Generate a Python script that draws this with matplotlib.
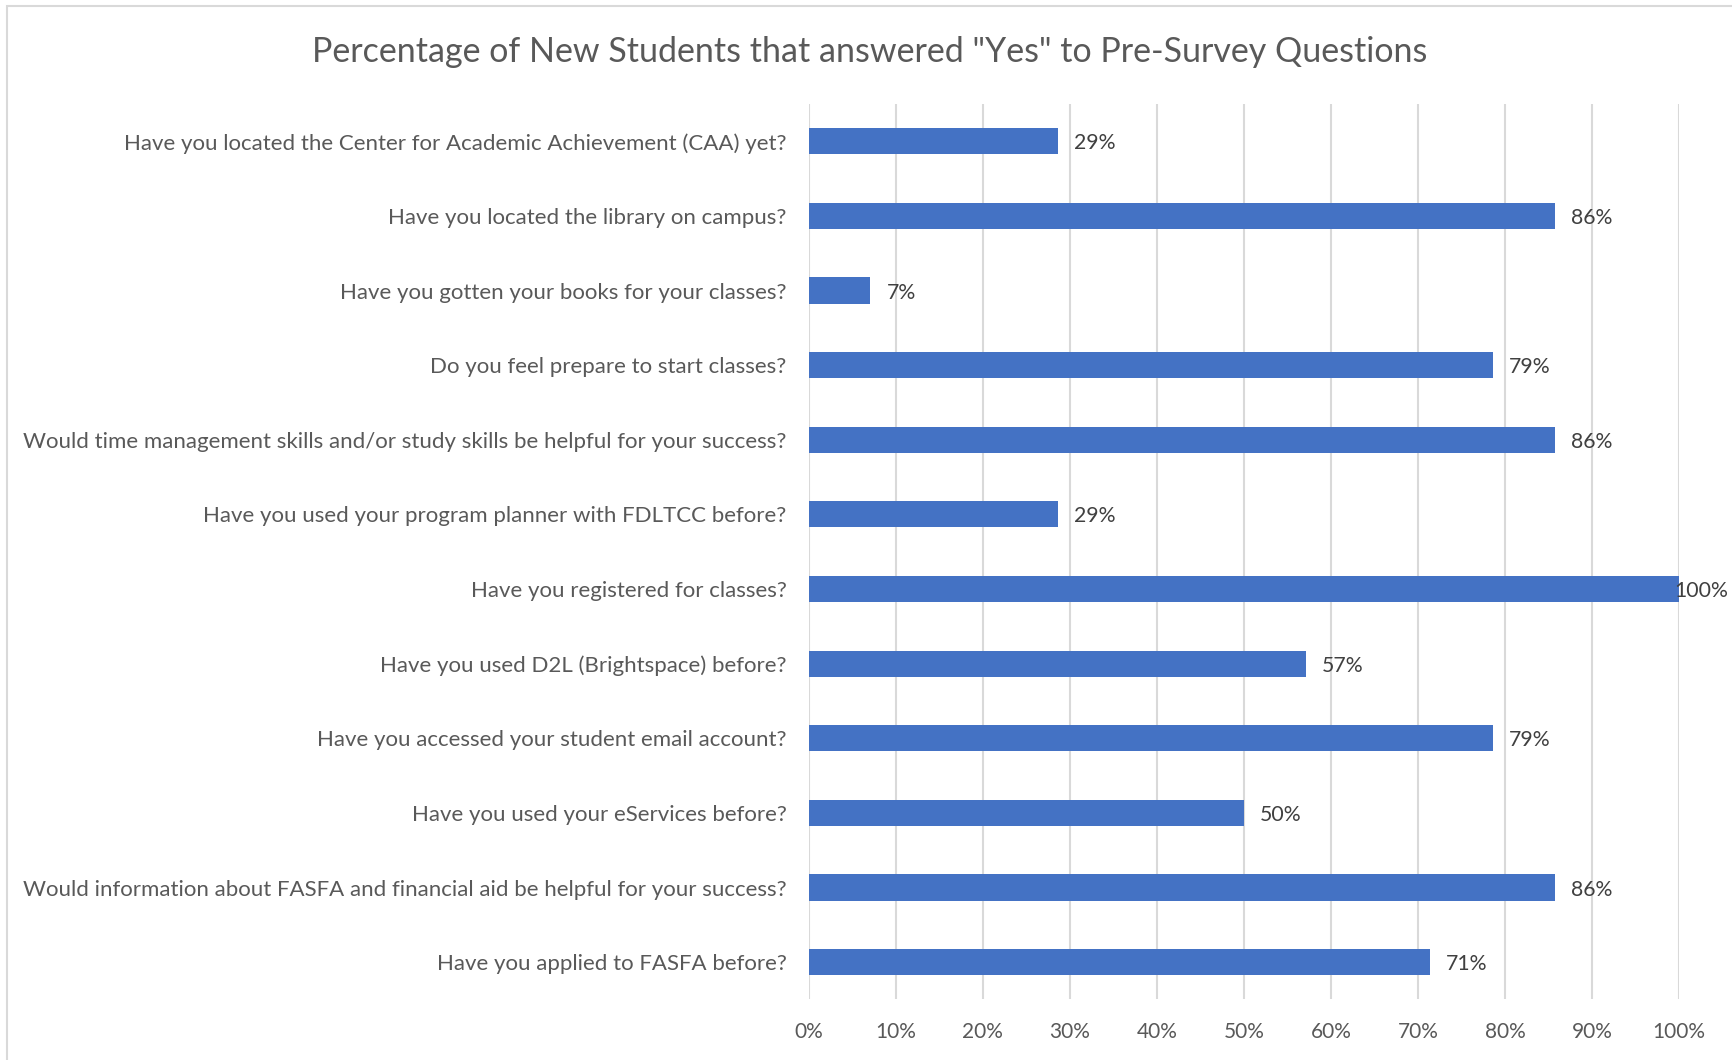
import matplotlib.pyplot as plt
from matplotlib.ticker import FuncFormatter, MultipleLocator
from matplotlib.patches import Rectangle

questions = [
    'Have you located the Center for Academic Achievement (CAA) yet?',
    'Have you located the library on campus?',
    'Have you gotten your books for your classes?',
    'Do you feel prepare to start classes?',
    'Would time management skills and/or study skills be helpful for your success?',
    'Have you used your program planner with FDLTCC before?',
    'Have you registered for classes?',
    'Have you used D2L (Brightspace) before?',
    'Have you accessed your student email account?',
    'Have you used your eServices before?',
    'Would information about FASFA and financial aid be helpful for your success?',
    'Have you applied to FASFA before?',
]
# share of "Yes" answers, in percent
yes_pct = [28.6, 85.7, 7.1, 78.6, 85.7, 28.6, 100.0, 57.1, 78.6, 50.0, 85.7, 71.4]

plt.rcParams['font.family'] = ['Lato', 'DejaVu Sans']

fig = plt.figure(figsize=(17.32, 10.6), dpi=100)
ax = fig.add_axes([0.4669, 0.0571, 0.5025, 0.8448])

# light chart border
fig.patches.append(Rectangle((7 / 1732, -0.1), 2, 1.1 - 6 / 1060,
                             transform=fig.transFigure, fill=False,
                             edgecolor='#D9D9D9', linewidth=1.5))

y = range(len(questions))
ax.barh(y, yes_pct, height=0.35, color='#4472C4', zorder=3)

for i, v in enumerate(yes_pct):
    off = 16 if v < 100 else -5
    ax.annotate('%.0f%%' % v, (v, i), xytext=(off, -2), textcoords='offset pixels',
                ha='left', va='center', fontsize=15.3, color='#404040',
                annotation_clip=False, zorder=4)

ax.set_ylim(len(questions) - 0.5, -0.5)
ax.set_xlim(0, 100)
ax.set_yticks(list(y))
ax.set_yticklabels(questions)
ax.xaxis.set_major_locator(MultipleLocator(10))
ax.xaxis.set_major_formatter(FuncFormatter(lambda x, pos: '%d%%' % x))

ax.grid(axis='x', color='#D9D9D9', linewidth=1.5, zorder=0)
for s in ax.spines.values():
    s.set_visible(False)
ax.tick_params(axis='both', length=0, colors='#595959')
ax.tick_params(axis='y', pad=16, labelsize=16)
ax.tick_params(axis='x', pad=16, labelsize=15)

fig.text(870 / 1732, 1 - 52 / 1060, 'Percentage of New Students that answered "Yes" to Pre-Survey Questions',
         ha='center', va='center', fontsize=24.5, color='#595959')

fig.savefig('out.png', dpi=100)
